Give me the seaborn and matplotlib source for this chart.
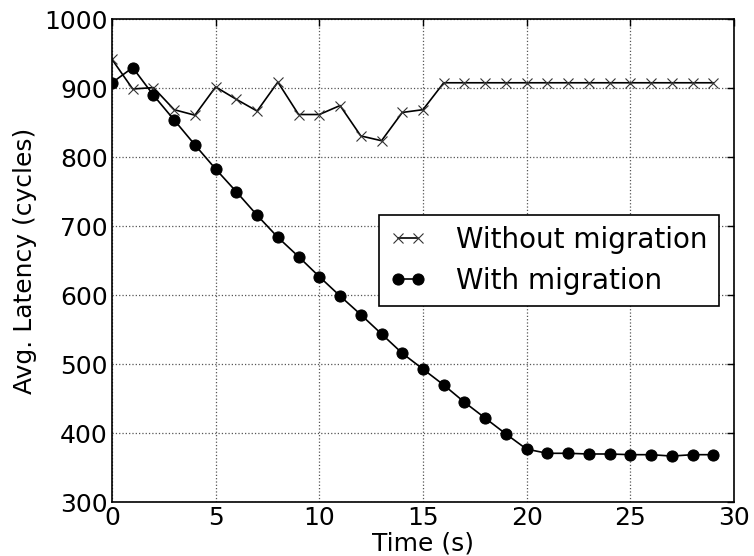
import matplotlib
matplotlib.use("Agg")
import matplotlib.pyplot as plt
import pandas as pd
import seaborn as sns

# time axis (s)
time_s = list(range(30))

# avg. latency (cycles)
without_migration = [942, 899, 901, 869, 861, 902, 884, 867, 909, 862,
                     862, 875, 831, 824, 865, 869, 908, 908, 908, 908,
                     908, 908, 908, 908, 908, 908, 908, 908, 908, 908]
with_migration = [908, 930, 890, 854, 818, 783, 750, 716, 684, 656,
                  627, 599, 572, 544, 516, 493, 470, 445, 422, 399,
                  377, 371, 371, 370, 370, 369, 369, 367, 369, 369]

series_names = ["Without migration", "With migration"]

sns.set_theme(style="white")
plt.rcParams['font.family'] = ['DejaVu Sans']
plt.rcParams['text.color'] = 'black'
plt.rcParams['axes.labelcolor'] = 'black'

df = pd.DataFrame({
    "Time": time_s * 2,
    "Latency": without_migration + with_migration,
    "Series": [series_names[0]] * len(time_s) + [series_names[1]] * len(time_s),
})

fig = plt.figure(figsize=(7.54, 5.56), dpi=100)
ax = fig.add_axes([0.1485, 0.0966, 0.825, 0.8687])

sns.lineplot(data=df[df.Series == series_names[0]], x="Time", y="Latency",
             color="black", marker="x", markersize=7.5, markeredgewidth=0.8,
             markeredgecolor="#333333", linewidth=1.2,
             label=series_names[0], ax=ax)
sns.lineplot(data=df[df.Series == series_names[1]], x="Time", y="Latency",
             color="black", marker="o", markersize=8, markeredgecolor="black",
             linewidth=1.2, label=series_names[1], ax=ax)

ax.set_xlim(0, 30)
ax.set_ylim(300, 1000)
ax.set_xticks(range(0, 31, 5))
ax.set_yticks(range(300, 1001, 100))
ax.grid(True, linestyle=":", color="#555555", linewidth=0.9)
for s in ax.spines.values():
    s.set_color("black")
    s.set_linewidth(1.2)
ax.tick_params(direction="in", top=True, right=True, length=5, width=1,
               labelsize=18, colors="black", pad=3)
ax.set_xlabel("Time (s)", fontsize=18, labelpad=1)
ax.set_ylabel("Avg. Latency (cycles)", fontsize=18, labelpad=5)

leg = ax.legend(loc="lower right", bbox_to_anchor=(0.976, 0.407),
                borderaxespad=0, fontsize=20, numpoints=2, fancybox=False,
                frameon=True, framealpha=1, edgecolor="black",
                handlelength=1.3, handletextpad=1.1, labelspacing=0.45,
                borderpad=0.4)
leg.get_frame().set_linewidth(1.2)

fig.savefig("out.png", dpi=100)
